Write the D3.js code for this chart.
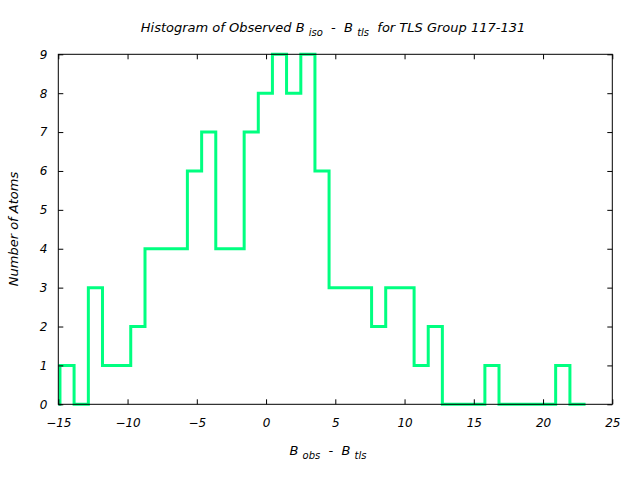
<!DOCTYPE html>
<html><head><meta charset="utf-8">
<script src="https://cdn.jsdelivr.net/npm/d3@7"></script>
<style>body{margin:0;background:#fff}svg{display:block}text{font-family:"DejaVu Sans";font-style:italic;font-size:12px;fill:#000;white-space:pre}</style>
</head><body><svg id="c" width="640" height="480"></svg>
<script>
const binLefts = [-14.88,-13.86,-12.83,-11.81,-10.79,-9.77,-8.74,-7.72,-6.70,-5.68,-4.65,-3.63,-2.61,-1.58,-0.56,0.46,1.48,2.51,3.53,4.55,5.57,6.60,7.62,8.64,9.66,10.69,11.71,12.73,13.75,14.78,15.80,16.82,17.84,18.87,19.89,20.91,21.94];
const binRightEnd = 22.96;
const counts = [1,0,3,1,1,2,4,4,4,6,7,4,4,7,8,9,8,9,6,3,3,3,2,3,3,1,2,0,0,0,1,0,0,0,0,1,0];
const xTicks = [-15,-10,-5,0,5,10,15,20,25];
const yTicks = [0,1,2,3,4,5,6,7,8,9];

const svg = d3.select("#c");
const L=58.3, R=612.3, T=54.3, B=404.3;
const x = d3.scaleLinear().domain([-15,25]).range([L,R]);
const y = d3.scaleLinear().domain([0,9]).range([B,T]);

// histogram steps
const pts = [[binLefts[0],0]];
counts.forEach((c,i)=>{
  const x0 = binLefts[i], x1 = i+1<binLefts.length ? binLefts[i+1] : binRightEnd;
  pts.push([x0,c]); pts.push([x1,c]);
});
svg.append("path")
  .attr("d", d3.line().x(d=>x(d[0])).y(d=>y(d[1]))(pts))
  .attr("fill","none").attr("stroke","#00ff80").attr("stroke-width",3)
  .attr("stroke-linejoin","miter").attr("stroke-linecap","square");

// axes
const tl=5;
svg.append("g").attr("transform",`translate(0,${B})`)
  .call(d3.axisBottom(x).tickValues(xTicks).tickSize(-tl).tickPadding(tl+9).tickFormat(d=>d<0?"\u2212"+(-d):d))
  .call(g=>{g.select(".domain").remove();});
svg.append("g").attr("transform",`translate(0,${T})`)
  .call(d3.axisTop(x).tickValues(xTicks).tickSize(-tl).tickFormat(""))
  .call(g=>g.select(".domain").remove());
svg.append("g").attr("transform",`translate(${L},0)`)
  .call(d3.axisLeft(y).tickValues(yTicks).tickSize(-tl).tickPadding(tl+6))
  .call(g=>g.select(".domain").remove());
svg.append("g").attr("transform",`translate(${R},0)`)
  .call(d3.axisRight(y).tickValues(yTicks).tickSize(-tl).tickFormat(""))
  .call(g=>g.select(".domain").remove());
svg.selectAll(".tick line").attr("stroke","#000");
svg.selectAll(".tick text").style("font-family","DejaVu Sans").style("font-style","italic").style("font-size","12px").attr("fill","#000");

svg.append("rect").attr("x",L).attr("y",T).attr("width",R-L).attr("height",B-T)
  .attr("fill","none").attr("stroke","#000").attr("stroke-width",1);

// title
const title = svg.append("text").attr("x",333).attr("y",32).attr("text-anchor","middle").style("font-size","13px");
title.append("tspan").text("Histogram of Observed B ");
title.append("tspan").attr("font-size","10px").attr("dy",4).text("iso");
title.append("tspan").attr("dy",-4).text("  -  B ");
title.append("tspan").attr("font-size","10px").attr("dy",4).text("tls");
title.append("tspan").attr("dy",-4).text("  for TLS Group 117-131");

const xl = svg.append("text").attr("x",328).attr("y",455).attr("text-anchor","middle").style("font-size","13px");
xl.append("tspan").text("B ");
xl.append("tspan").attr("font-size","10px").attr("dy",4).text("obs");
xl.append("tspan").attr("dy",-4).text("  -  B ");
xl.append("tspan").attr("font-size","10px").attr("dy",4).text("tls");

svg.append("text").attr("transform","translate(18,229) rotate(-90)").attr("text-anchor","middle").style("font-size","13px").text("Number of Atoms");
</script></body></html>
